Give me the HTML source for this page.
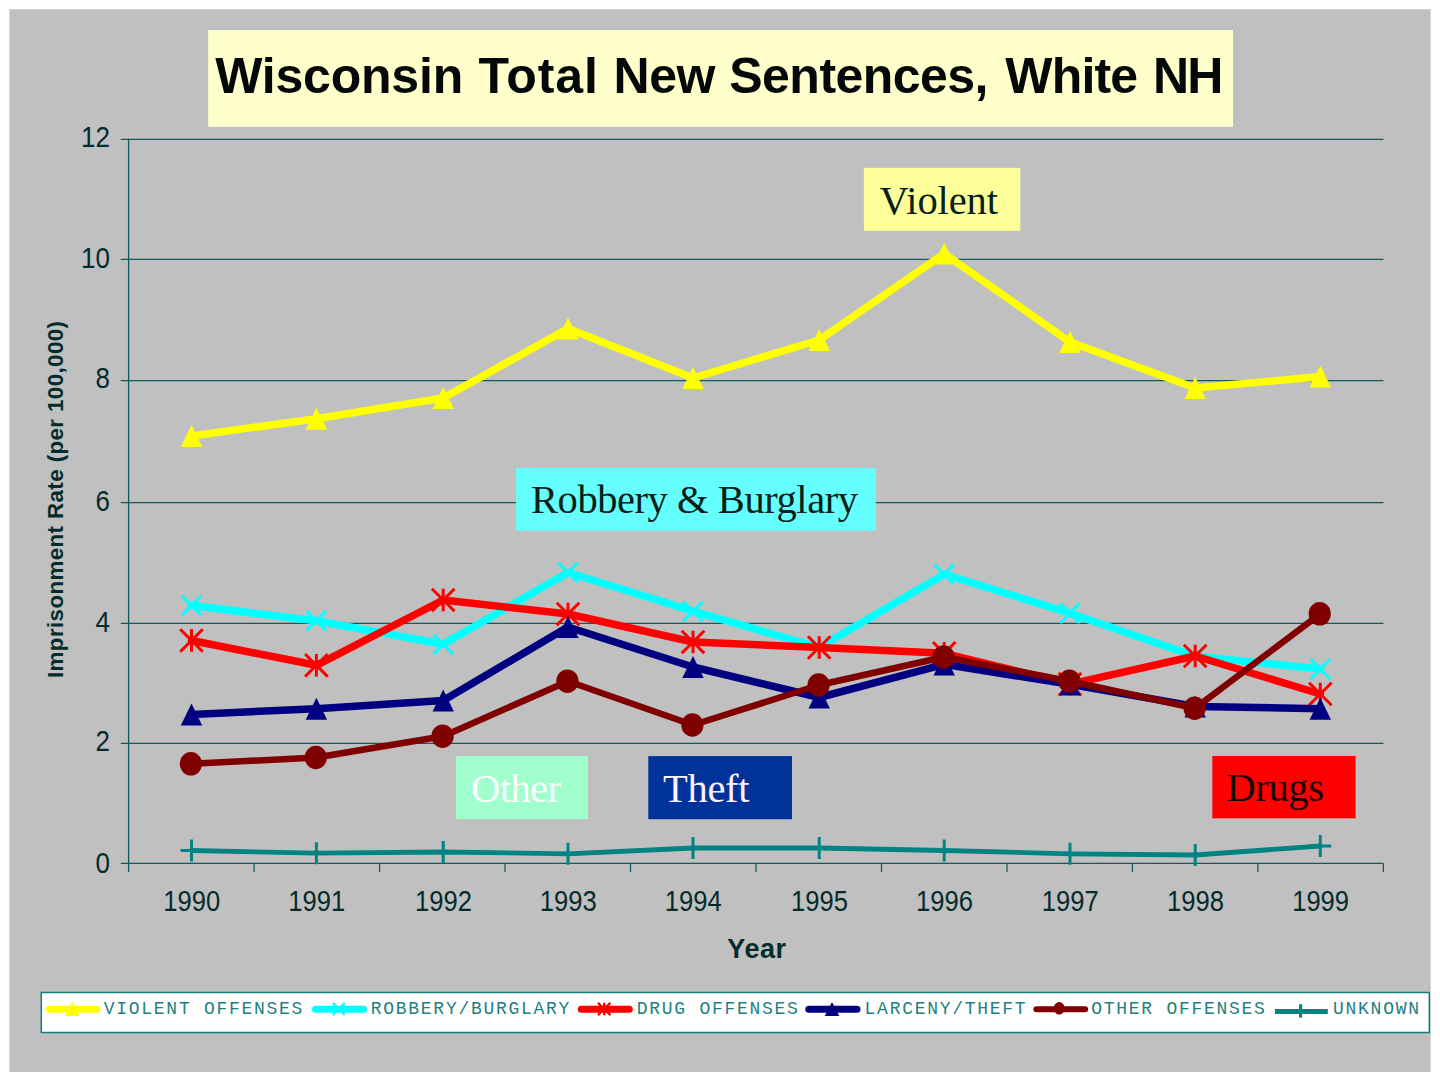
<!DOCTYPE html>
<html><head><meta charset="utf-8"><title>Wisconsin Total New Sentences, White NH</title>
<style>
html,body{margin:0;padding:0;background:#ffffff;}
body{width:1440px;height:1079px;overflow:hidden;font-family:"Liberation Sans",sans-serif;}
svg{display:block;}
.sans{font-family:"Liberation Sans",sans-serif;}
.serif{font-family:"Liberation Serif",serif;}
.mono{font-family:"Liberation Mono",monospace;}
</style></head><body>
<svg width="1440" height="1079" viewBox="0 0 1440 1079">
<rect x="0" y="0" width="1440" height="1079" fill="#ffffff"/>
<rect x="9.3" y="9.3" width="1421.4" height="1062.7" fill="#c0c0c0"/>
<rect x="208.2" y="30.1" width="1024.8" height="96.7" fill="#ffffcc"/>
<text class="sans" x="215.2" y="93.4" font-size="50" font-weight="bold" fill="#040808" letter-spacing="-0.20">Wisconsin</text>
<text class="sans" x="478.4" y="93.4" font-size="50" font-weight="bold" fill="#040808" letter-spacing="0.95">Total</text>
<text class="sans" x="613.5" y="93.4" font-size="50" font-weight="bold" fill="#040808" letter-spacing="-0.40">New</text>
<text class="sans" x="729.3" y="93.4" font-size="50" font-weight="bold" fill="#040808" letter-spacing="-0.54">Sentences,</text>
<text class="sans" x="1005.3" y="93.4" font-size="50" font-weight="bold" fill="#040808" letter-spacing="-0.80">White</text>
<text class="sans" x="1153.0" y="93.4" font-size="50" font-weight="bold" fill="#040808" letter-spacing="-1.90">NH</text>
<line x1="120.8" y1="139.4" x2="1383.4" y2="139.4" stroke="#0e5c5c" stroke-width="1.25"/>
<line x1="120.8" y1="259.4" x2="1383.4" y2="259.4" stroke="#0e5c5c" stroke-width="1.25"/>
<line x1="120.8" y1="380.5" x2="1383.4" y2="380.5" stroke="#0e5c5c" stroke-width="1.25"/>
<line x1="120.8" y1="502.5" x2="1383.4" y2="502.5" stroke="#0e5c5c" stroke-width="1.25"/>
<line x1="120.8" y1="623.4" x2="1383.4" y2="623.4" stroke="#0e5c5c" stroke-width="1.25"/>
<line x1="120.8" y1="743.4" x2="1383.4" y2="743.4" stroke="#0e5c5c" stroke-width="1.25"/>
<line x1="128.6" y1="138.8" x2="128.6" y2="872.0" stroke="#0e5c5c" stroke-width="1.3"/>
<line x1="120.8" y1="863.4" x2="1383.4" y2="863.4" stroke="#0e5c5c" stroke-width="1.3"/>
<line x1="254.1" y1="863.4" x2="254.1" y2="872.0" stroke="#0e5c5c" stroke-width="1.25"/>
<line x1="379.6" y1="863.4" x2="379.6" y2="872.0" stroke="#0e5c5c" stroke-width="1.25"/>
<line x1="505.0" y1="863.4" x2="505.0" y2="872.0" stroke="#0e5c5c" stroke-width="1.25"/>
<line x1="630.5" y1="863.4" x2="630.5" y2="872.0" stroke="#0e5c5c" stroke-width="1.25"/>
<line x1="756.0" y1="863.4" x2="756.0" y2="872.0" stroke="#0e5c5c" stroke-width="1.25"/>
<line x1="881.5" y1="863.4" x2="881.5" y2="872.0" stroke="#0e5c5c" stroke-width="1.25"/>
<line x1="1007.0" y1="863.4" x2="1007.0" y2="872.0" stroke="#0e5c5c" stroke-width="1.25"/>
<line x1="1132.4" y1="863.4" x2="1132.4" y2="872.0" stroke="#0e5c5c" stroke-width="1.25"/>
<line x1="1257.9" y1="863.4" x2="1257.9" y2="872.0" stroke="#0e5c5c" stroke-width="1.25"/>
<line x1="1383.4" y1="863.4" x2="1383.4" y2="872.0" stroke="#0e5c5c" stroke-width="1.25"/>
<text class="sans" transform="translate(109.9 147.2) scale(1 1.11)" font-size="26" text-anchor="end" fill="#042c2c">12</text>
<text class="sans" transform="translate(109.9 268.4) scale(1 1.11)" font-size="26" text-anchor="end" fill="#042c2c">10</text>
<text class="sans" transform="translate(109.9 388.4) scale(1 1.11)" font-size="26" text-anchor="end" fill="#042c2c">8</text>
<text class="sans" transform="translate(109.9 510.6) scale(1 1.11)" font-size="26" text-anchor="end" fill="#042c2c">6</text>
<text class="sans" transform="translate(109.9 631.5) scale(1 1.11)" font-size="26" text-anchor="end" fill="#042c2c">4</text>
<text class="sans" transform="translate(109.9 751.4) scale(1 1.11)" font-size="26" text-anchor="end" fill="#042c2c">2</text>
<text class="sans" transform="translate(109.9 872.5) scale(1 1.11)" font-size="26" text-anchor="end" fill="#042c2c">0</text>
<text class="sans" transform="translate(191.8 910.9) scale(1 1.12)" font-size="25.6" text-anchor="middle" fill="#042c2c">1990</text>
<text class="sans" transform="translate(316.7 910.9) scale(1 1.12)" font-size="25.6" text-anchor="middle" fill="#042c2c">1991</text>
<text class="sans" transform="translate(443.5 910.9) scale(1 1.12)" font-size="25.6" text-anchor="middle" fill="#042c2c">1992</text>
<text class="sans" transform="translate(568.3 910.9) scale(1 1.12)" font-size="25.6" text-anchor="middle" fill="#042c2c">1993</text>
<text class="sans" transform="translate(693.3 910.9) scale(1 1.12)" font-size="25.6" text-anchor="middle" fill="#042c2c">1994</text>
<text class="sans" transform="translate(819.5 910.9) scale(1 1.12)" font-size="25.6" text-anchor="middle" fill="#042c2c">1995</text>
<text class="sans" transform="translate(944.5 910.9) scale(1 1.12)" font-size="25.6" text-anchor="middle" fill="#042c2c">1996</text>
<text class="sans" transform="translate(1070.3 910.9) scale(1 1.12)" font-size="25.6" text-anchor="middle" fill="#042c2c">1997</text>
<text class="sans" transform="translate(1195.5 910.9) scale(1 1.12)" font-size="25.6" text-anchor="middle" fill="#042c2c">1998</text>
<text class="sans" transform="translate(1320.6 910.9) scale(1 1.12)" font-size="25.6" text-anchor="middle" fill="#042c2c">1999</text>
<text class="sans" x="757" y="957.8" font-size="27" font-weight="bold" text-anchor="middle" fill="#042c2c" letter-spacing="0.6">Year</text>
<text class="sans" transform="translate(62.7 499.5) rotate(-90)" font-size="22.3" font-weight="bold" text-anchor="middle" fill="#042c2c" textLength="357" lengthAdjust="spacing">Imprisonment Rate (per 100,000)</text>
<rect x="863.9" y="167.8" width="156.4" height="63.0" fill="#ffff99"/>
<text class="serif" x="879.5" y="213.9" font-size="40.5" fill="#06201a" textLength="118.5" lengthAdjust="spacing">Violent</text>
<rect x="516.1" y="468.0" width="359.7" height="62.6" fill="#66ffff"/>
<text class="serif" x="531.0" y="513.3" font-size="40.5" fill="#06201a" textLength="327.0" lengthAdjust="spacing">Robbery &amp; Burglary</text>
<rect x="456.1" y="756.1" width="131.9" height="63.1" fill="#a0ffcd"/>
<text class="serif" x="471.0" y="801.7" font-size="40.5" fill="#ffffff" textLength="90.0" lengthAdjust="spacing">Other</text>
<rect x="648.3" y="756.1" width="143.7" height="63.1" fill="#003399"/>
<text class="serif" x="663.0" y="801.7" font-size="40.5" fill="#fff0ff" textLength="86.5" lengthAdjust="spacing">Theft</text>
<rect x="1212.3" y="756.0" width="143.3" height="62.3" fill="#ff0000"/>
<text class="serif" x="1226.5" y="800.9" font-size="40.5" fill="#150000" textLength="97.5" lengthAdjust="spacing">Drugs</text>
<polyline points="191.5,436.0 316.4,418.7 443.2,398.0 568.0,328.6 693.0,378.0 819.2,340.0 944.2,253.6 1070.0,342.0 1195.2,388.0 1320.3,376.6" fill="none" stroke="#ffff00" stroke-width="7.5" stroke-linejoin="round" stroke-linecap="round"/>
<polygon points="191.5,425.0 202.2,447.0 180.8,447.0" fill="#ffff00"/>
<polygon points="316.4,407.7 327.1,429.7 305.7,429.7" fill="#ffff00"/>
<polygon points="443.2,387.0 453.9,409.0 432.5,409.0" fill="#ffff00"/>
<polygon points="568.0,317.6 578.7,339.6 557.3,339.6" fill="#ffff00"/>
<polygon points="693.0,367.0 703.7,389.0 682.3,389.0" fill="#ffff00"/>
<polygon points="819.2,329.0 829.9,351.0 808.5,351.0" fill="#ffff00"/>
<polygon points="944.2,242.6 954.9,264.6 933.5,264.6" fill="#ffff00"/>
<polygon points="1070.0,331.0 1080.7,353.0 1059.3,353.0" fill="#ffff00"/>
<polygon points="1195.2,377.0 1205.9,399.0 1184.5,399.0" fill="#ffff00"/>
<polygon points="1320.3,365.6 1331.0,387.6 1309.6,387.6" fill="#ffff00"/>
<polyline points="191.5,605.5 316.4,620.8 443.2,644.2 568.0,572.5 693.0,611.2 819.2,647.5 944.2,574.2 1070.0,613.2 1195.2,656.2 1320.3,669.0" fill="none" stroke="#00ffff" stroke-width="7.5" stroke-linejoin="round" stroke-linecap="round"/>
<path d="M181.8 595.8L201.2 615.2M181.8 615.2L201.2 595.8" stroke="#00ffff" stroke-width="3.0" fill="none"/>
<path d="M306.7 611.0L326.1 630.5M306.7 630.5L326.1 611.0" stroke="#00ffff" stroke-width="3.0" fill="none"/>
<path d="M433.5 634.5L452.9 654.0M433.5 654.0L452.9 634.5" stroke="#00ffff" stroke-width="3.0" fill="none"/>
<path d="M558.3 562.8L577.7 582.2M558.3 582.2L577.7 562.8" stroke="#00ffff" stroke-width="3.0" fill="none"/>
<path d="M683.3 601.5L702.7 621.0M683.3 621.0L702.7 601.5" stroke="#00ffff" stroke-width="3.0" fill="none"/>
<path d="M809.5 637.8L828.9 657.2M809.5 657.2L828.9 637.8" stroke="#00ffff" stroke-width="3.0" fill="none"/>
<path d="M934.5 564.5L953.9 584.0M934.5 584.0L953.9 564.5" stroke="#00ffff" stroke-width="3.0" fill="none"/>
<path d="M1060.3 603.5L1079.7 623.0M1060.3 623.0L1079.7 603.5" stroke="#00ffff" stroke-width="3.0" fill="none"/>
<path d="M1185.5 646.5L1204.9 666.0M1185.5 666.0L1204.9 646.5" stroke="#00ffff" stroke-width="3.0" fill="none"/>
<path d="M1310.6 659.3L1330.0 678.7M1310.6 678.7L1330.0 659.3" stroke="#00ffff" stroke-width="3.0" fill="none"/>
<polyline points="191.5,640.5 316.4,665.3 443.2,600.0 568.0,614.0 693.0,642.0 819.2,647.5 944.2,653.3 1070.0,684.2 1195.2,656.0 1320.3,694.0" fill="none" stroke="#ff0000" stroke-width="7.5" stroke-linejoin="round" stroke-linecap="round"/>
<path d="M180.2 629.2L202.8 651.8M180.2 651.8L202.8 629.2" stroke="#ff0000" stroke-width="3.0" fill="none"/>
<path d="M191.5 629.2L191.5 651.8" stroke="#ff0000" stroke-width="3.0" fill="none"/>
<path d="M305.1 654.0L327.7 676.6M305.1 676.6L327.7 654.0" stroke="#ff0000" stroke-width="3.0" fill="none"/>
<path d="M316.4 654.0L316.4 676.6" stroke="#ff0000" stroke-width="3.0" fill="none"/>
<path d="M431.9 588.7L454.5 611.3M431.9 611.3L454.5 588.7" stroke="#ff0000" stroke-width="3.0" fill="none"/>
<path d="M443.2 588.7L443.2 611.3" stroke="#ff0000" stroke-width="3.0" fill="none"/>
<path d="M556.7 602.7L579.3 625.3M556.7 625.3L579.3 602.7" stroke="#ff0000" stroke-width="3.0" fill="none"/>
<path d="M568.0 602.7L568.0 625.3" stroke="#ff0000" stroke-width="3.0" fill="none"/>
<path d="M681.7 630.7L704.3 653.3M681.7 653.3L704.3 630.7" stroke="#ff0000" stroke-width="3.0" fill="none"/>
<path d="M693.0 630.7L693.0 653.3" stroke="#ff0000" stroke-width="3.0" fill="none"/>
<path d="M807.9 636.2L830.5 658.8M807.9 658.8L830.5 636.2" stroke="#ff0000" stroke-width="3.0" fill="none"/>
<path d="M819.2 636.2L819.2 658.8" stroke="#ff0000" stroke-width="3.0" fill="none"/>
<path d="M932.9 642.0L955.5 664.6M932.9 664.6L955.5 642.0" stroke="#ff0000" stroke-width="3.0" fill="none"/>
<path d="M944.2 642.0L944.2 664.6" stroke="#ff0000" stroke-width="3.0" fill="none"/>
<path d="M1058.7 672.9L1081.3 695.5M1058.7 695.5L1081.3 672.9" stroke="#ff0000" stroke-width="3.0" fill="none"/>
<path d="M1070.0 672.9L1070.0 695.5" stroke="#ff0000" stroke-width="3.0" fill="none"/>
<path d="M1183.9 644.7L1206.5 667.3M1183.9 667.3L1206.5 644.7" stroke="#ff0000" stroke-width="3.0" fill="none"/>
<path d="M1195.2 644.7L1195.2 667.3" stroke="#ff0000" stroke-width="3.0" fill="none"/>
<path d="M1309.0 682.7L1331.6 705.3M1309.0 705.3L1331.6 682.7" stroke="#ff0000" stroke-width="3.0" fill="none"/>
<path d="M1320.3 682.7L1320.3 705.3" stroke="#ff0000" stroke-width="3.0" fill="none"/>
<polyline points="191.5,714.4 316.4,708.8 443.2,700.6 568.0,627.0 693.0,667.0 819.2,697.5 944.2,664.4 1070.0,684.4 1195.2,706.4 1320.3,708.8" fill="none" stroke="#000080" stroke-width="7.5" stroke-linejoin="round" stroke-linecap="round"/>
<polygon points="191.5,703.4 202.2,725.4 180.8,725.4" fill="#000080"/>
<polygon points="316.4,697.8 327.1,719.8 305.7,719.8" fill="#000080"/>
<polygon points="443.2,689.6 453.9,711.6 432.5,711.6" fill="#000080"/>
<polygon points="568.0,616.0 578.7,638.0 557.3,638.0" fill="#000080"/>
<polygon points="693.0,656.0 703.7,678.0 682.3,678.0" fill="#000080"/>
<polygon points="819.2,686.5 829.9,708.5 808.5,708.5" fill="#000080"/>
<polygon points="944.2,653.4 954.9,675.4 933.5,675.4" fill="#000080"/>
<polygon points="1070.0,673.4 1080.7,695.4 1059.3,695.4" fill="#000080"/>
<polygon points="1195.2,695.4 1205.9,717.4 1184.5,717.4" fill="#000080"/>
<polygon points="1320.3,697.8 1331.0,719.8 1309.6,719.8" fill="#000080"/>
<polyline points="191.5,763.8 316.4,757.5 443.2,736.2 568.0,681.2 693.0,725.0 819.2,685.0 944.2,657.0 1070.0,681.2 1195.2,708.2 1320.3,613.8" fill="none" stroke="#800000" stroke-width="6.5" stroke-linejoin="round" stroke-linecap="round"/>
<ellipse cx="190.9" cy="763.8" rx="11.1" ry="11.8" fill="#800000"/>
<ellipse cx="315.8" cy="757.5" rx="11.1" ry="11.8" fill="#800000"/>
<ellipse cx="442.6" cy="736.2" rx="11.1" ry="11.8" fill="#800000"/>
<ellipse cx="567.4" cy="681.2" rx="11.1" ry="11.8" fill="#800000"/>
<ellipse cx="692.4" cy="725.0" rx="11.1" ry="11.8" fill="#800000"/>
<ellipse cx="818.6" cy="685.0" rx="11.1" ry="11.8" fill="#800000"/>
<ellipse cx="943.6" cy="657.0" rx="11.1" ry="11.8" fill="#800000"/>
<ellipse cx="1069.4" cy="681.2" rx="11.1" ry="11.8" fill="#800000"/>
<ellipse cx="1194.6" cy="708.2" rx="11.1" ry="11.8" fill="#800000"/>
<ellipse cx="1319.7" cy="613.8" rx="11.1" ry="11.8" fill="#800000"/>
<polyline points="191.5,850.5 316.4,853.2 443.2,852.0 568.0,853.8 693.0,848.0 819.2,848.0 944.2,850.5 1070.0,853.8 1195.2,855.0 1320.3,846.0" fill="none" stroke="#008383" stroke-width="4.8" stroke-linejoin="round" stroke-linecap="round"/>
<path d="M191.5 839.5L191.5 861.5M180.5 850.5L202.5 850.5" stroke="#008383" stroke-width="3.0" fill="none"/>
<path d="M316.4 842.2L316.4 864.2M305.4 853.2L327.4 853.2" stroke="#008383" stroke-width="3.0" fill="none"/>
<path d="M443.2 841.0L443.2 863.0M432.2 852.0L454.2 852.0" stroke="#008383" stroke-width="3.0" fill="none"/>
<path d="M568.0 842.8L568.0 864.8M557.0 853.8L579.0 853.8" stroke="#008383" stroke-width="3.0" fill="none"/>
<path d="M693.0 837.0L693.0 859.0M682.0 848.0L704.0 848.0" stroke="#008383" stroke-width="3.0" fill="none"/>
<path d="M819.2 837.0L819.2 859.0M808.2 848.0L830.2 848.0" stroke="#008383" stroke-width="3.0" fill="none"/>
<path d="M944.2 839.5L944.2 861.5M933.2 850.5L955.2 850.5" stroke="#008383" stroke-width="3.0" fill="none"/>
<path d="M1070.0 842.8L1070.0 864.8M1059.0 853.8L1081.0 853.8" stroke="#008383" stroke-width="3.0" fill="none"/>
<path d="M1195.2 844.0L1195.2 866.0M1184.2 855.0L1206.2 855.0" stroke="#008383" stroke-width="3.0" fill="none"/>
<path d="M1320.3 835.0L1320.3 857.0M1309.3 846.0L1331.3 846.0" stroke="#008383" stroke-width="3.0" fill="none"/>
<rect x="41.3" y="992.5" width="1388" height="40" fill="#ffffff" stroke="#0f7f80" stroke-width="1.5"/>
<line x1="49.4" y1="1009.2" x2="96.8" y2="1009.2" stroke="#ffff00" stroke-width="7.0" stroke-linecap="round"/>
<polygon points="72.2,1001.9 79.5,1015.9 64.9,1015.9" fill="#ffff00"/>
<text class="mono" x="103.8" y="1013.9" font-size="18" fill="#1f7f80" textLength="198.5" lengthAdjust="spacing">VIOLENT OFFENSES</text>
<line x1="315.5" y1="1009.2" x2="363.5" y2="1009.2" stroke="#00ffff" stroke-width="7.0" stroke-linecap="round"/>
<path d="M332.8 1003.0L344.8 1015.0M332.8 1015.0L344.8 1003.0" stroke="#00ffff" stroke-width="2.4" fill="none"/>
<text class="mono" x="370.8" y="1013.9" font-size="18" fill="#1f7f80" textLength="198.5" lengthAdjust="spacing">ROBBERY/BURGLARY</text>
<line x1="581.3" y1="1009.2" x2="629.3" y2="1009.2" stroke="#ff0000" stroke-width="7.0" stroke-linecap="round"/>
<path d="M598.0 1002.8L610.4 1015.2M598.0 1015.2L610.4 1002.8" stroke="#ff0000" stroke-width="2.4" fill="none"/>
<path d="M604.2 1002.8L604.2 1015.2" stroke="#ff0000" stroke-width="2.4" fill="none"/>
<text class="mono" x="636.8" y="1013.9" font-size="18" fill="#1f7f80" textLength="161.0" lengthAdjust="spacing">DRUG OFFENSES</text>
<line x1="808.8" y1="1009.2" x2="857.0" y2="1009.2" stroke="#000080" stroke-width="7.0" stroke-linecap="round"/>
<polygon points="832.0,1001.9 839.3,1015.9 824.7,1015.9" fill="#000080"/>
<text class="mono" x="864.6" y="1013.9" font-size="18" fill="#1f7f80" textLength="161.0" lengthAdjust="spacing">LARCENY/THEFT</text>
<line x1="1036.4" y1="1009.2" x2="1085.1" y2="1009.2" stroke="#800000" stroke-width="6.0" stroke-linecap="round"/>
<ellipse cx="1059.2" cy="1008.2" rx="5.3" ry="6.3" fill="#800000"/>
<text class="mono" x="1091.3" y="1013.9" font-size="18" fill="#1f7f80" textLength="173.5" lengthAdjust="spacing">OTHER OFFENSES</text>
<line x1="1275.0" y1="1011.4" x2="1327.8" y2="1011.4" stroke="#008383" stroke-width="5.0"/>
<path d="M1300.6 1004.2L1300.6 1017.6" stroke="#008383" stroke-width="3.0" fill="none"/>
<text class="mono" x="1333.0" y="1013.9" font-size="18" fill="#1f7f80" textLength="86.0" lengthAdjust="spacing">UNKNOWN</text>
</svg>
</body></html>
